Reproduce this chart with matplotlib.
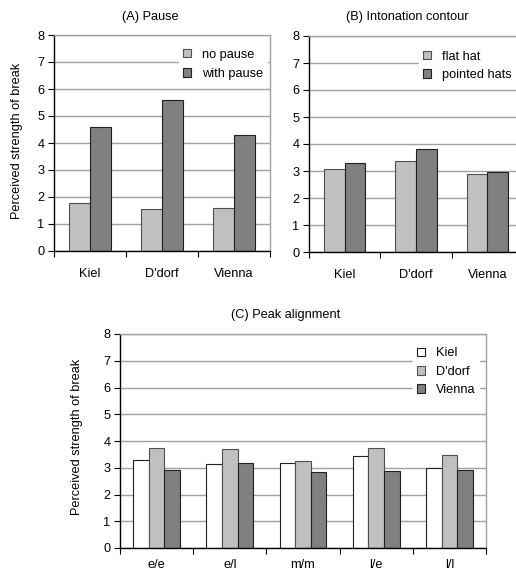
import matplotlib
matplotlib.use("Agg")
import matplotlib.pyplot as plt
import numpy as np

plt.rcParams['font.family'] = ['Liberation Sans', 'DejaVu Sans']
plt.rcParams['font.size'] = 9.2

cities = ["Kiel", "D'dorf", "Vienna"]

# (A) pause
no_pause = [1.77, 1.54, 1.60]
with_pause = [4.60, 5.59, 4.28]

# (B) intonation contour
flat_hat = [3.07, 3.38, 2.90]
pointed_hats = [3.29, 3.81, 2.98]

# (C) peak alignment
alignments = ["e/e", "e/l", "m/m", "l/e", "l/l"]
kiel = [3.28, 3.13, 3.19, 3.43, 2.99]
dorf = [3.74, 3.71, 3.24, 3.73, 3.49]
vienna = [2.90, 3.17, 2.83, 2.89, 2.92]

W, H = 516, 572
LIGHT = '#c0c0c0'
DARK = '#808080'
GRID = '#a0a0a0'

fig = plt.figure(figsize=(W / 100, H / 100), dpi=100)


def px_axes(x0, y0, x1, y1):
    return fig.add_axes([x0 / W, 1 - y1 / H, (x1 - x0) / W, (y1 - y0) / H])


def style(ax, labels, pad=12):
    n = len(labels)
    ax.set_xlim(-0.5, n - 0.5)
    ax.set_ylim(0, 8)
    ax.set_yticks(range(9))
    ax.set_xticks(np.arange(n + 1) - 0.5)
    ax.set_xticklabels([])
    ax.set_xticks(range(n), minor=True)
    ax.set_xticklabels(labels, minor=True)
    ax.tick_params(axis='x', which='minor', length=0, pad=pad)
    ax.tick_params(axis='x', which='major', length=4, width=0.8, direction='out')
    ax.tick_params(axis='y', length=4, width=0.8, direction='out', pad=3)
    ax.yaxis.grid(True, color=GRID, linewidth=1)
    ax.set_axisbelow(True)
    ax.spines['left'].set_color('black')
    ax.spines['bottom'].set_color('black')
    ax.spines['top'].set_color(GRID)
    ax.spines['right'].set_color(GRID)
    for s in ax.spines.values():
        s.set_linewidth(1)


def legend(ax, loc, spacing=0.55):
    return ax.legend(loc='upper left', bbox_to_anchor=loc, frameon=True,
                     fancybox=False, edgecolor='white', facecolor='white',
                     framealpha=1, borderpad=0.3, borderaxespad=0,
                     handlelength=0.65, handleheight=0.65, handletextpad=0.85,
                     labelspacing=spacing)


x3 = np.arange(3)
bw = 0.29

# (A) Pause
axA = px_axes(54, 35, 270, 251)
axA.bar(x3 - bw / 2, no_pause, bw, color=LIGHT, edgecolor='#505050', linewidth=0.8, label='no pause')
axA.bar(x3 + bw / 2, with_pause, bw, color=DARK, edgecolor='#202020', linewidth=0.8, label='with pause')
style(axA, cities)
legend(axA, (0.58, 0.955), spacing=0.6)
fig.text(150 / W, 1 - 17 / H, '(A) Pause', ha='center', va='center')
fig.text(17 / W, 1 - 141 / H, 'Perceived strength of break', rotation=90, ha='center', va='center')

# (B) Intonation contour
axB = px_axes(309, 36, 523, 252)
axB.bar(x3 - bw / 2, flat_hat, bw, color=LIGHT, edgecolor='#505050', linewidth=0.8, label='flat hat')
axB.bar(x3 + bw / 2, pointed_hats, bw, color=DARK, edgecolor='#202020', linewidth=0.8, label='pointed hats')
style(axB, cities)
legend(axB, (0.514, 0.95), spacing=0.5)
fig.text(407 / W, 1 - 17 / H, '(B) Intonation contour', ha='center', va='center')

# (C) Peak alignment
x5 = np.arange(5)
cw = 0.214
axC = px_axes(120, 334, 486, 548)
axC.bar(x5 - cw, kiel, cw, color='white', edgecolor='#202020', linewidth=0.8, label='Kiel')
axC.bar(x5, dorf, cw, color=LIGHT, edgecolor='#505050', linewidth=0.8, label="D'dorf")
axC.bar(x5 + cw, vienna, cw, color=DARK, edgecolor='#202020', linewidth=0.8, label='Vienna')
style(axC, alignments, pad=8)
legend(axC, (0.80, 0.955), spacing=0.5)
fig.text(286 / W, 1 - 315 / H, '(C) Peak alignment', ha='center', va='center')
fig.text(77 / W, 1 - 437 / H, 'Perceived strength of break', rotation=90, ha='center', va='center')

fig.savefig('out.png', dpi=100)
